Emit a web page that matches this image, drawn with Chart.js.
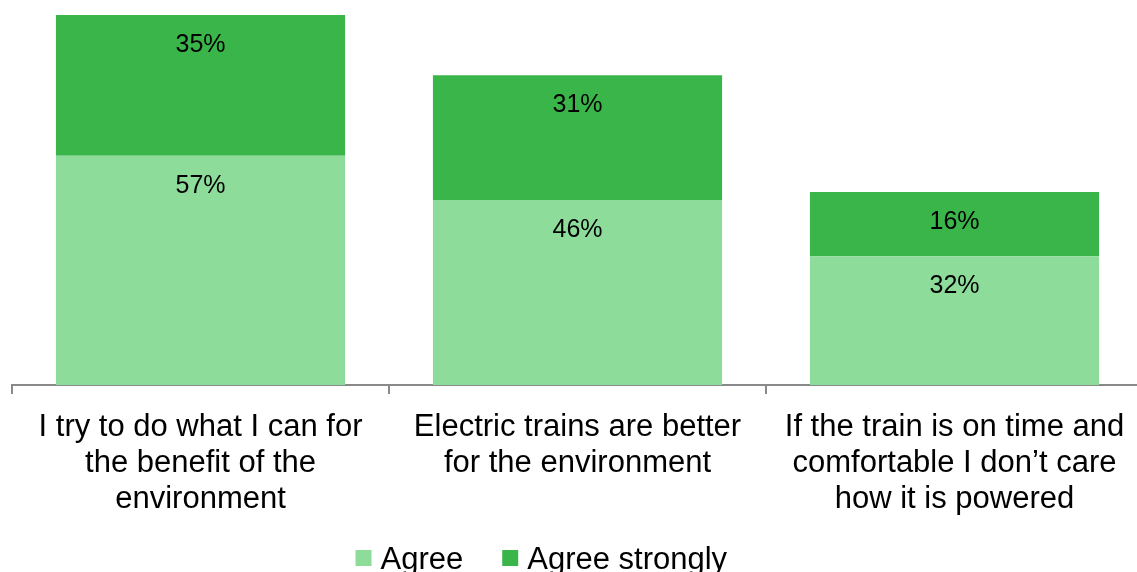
<!DOCTYPE html>
<html>
<head>
<meta charset="utf-8">
<script src="https://cdn.jsdelivr.net/npm/chart.js@4/dist/chart.umd.min.js"></script>
<style>
    html, body { margin: 0; padding: 0; background: #fff; overflow: hidden; }
    #wrap { width: 1145px; height: 572px; position: relative; }
</style>
</head>
<body>
<div id="wrap"><canvas id="chart"></canvas></div>
<script>
const categories = [
    ['I try to do what I can for', 'the benefit of the', 'environment'],
    ['Electric trains are better', 'for the environment'],
    ['If the train is on time and', 'comfortable I don\u2019t care', 'how it is powered']
];
const seriesNames = ['Agree', 'Agree strongly'];
const agree = [57, 46, 32];
const agreeStrongly = [35, 31, 16];

const LIGHT = '#8DDC9A';
const DARK = '#3AB54A';
const FONT = '"Liberation Sans", Arial, sans-serif';

// draw the % labels near the top of each segment
const segmentLabels = {
    id: 'segmentLabels',
    afterDatasetsDraw(chart) {
        const ctx = chart.ctx;
        ctx.save();
        ctx.font = '25px ' + FONT;
        ctx.fillStyle = '#000';
        ctx.textAlign = 'center';
        ctx.textBaseline = 'middle';
        chart.data.datasets.forEach((ds, i) => {
            const meta = chart.getDatasetMeta(i);
            meta.data.forEach((bar, j) => {
                ctx.fillText(ds.data[j] + '%', bar.x, bar.y + 30);
            });
        });
        ctx.restore();
    }
};

// bottom legend, drawn by hand so the spacing matches the original
const bottomLegend = {
    id: 'bottomLegend',
    afterDraw(chart) {
        const ctx = chart.ctx;
        ctx.save();
        ctx.font = '31px ' + FONT;
        ctx.textBaseline = 'middle';
        ctx.fillStyle = '#000';
        const y = chart.chartArea.bottom + 175;
        let x = chart.width / 2 - 217;
        chart.data.datasets.forEach((ds) => {
            ctx.fillStyle = ds.backgroundColor;
            ctx.fillRect(x, y - 10, 16, 16);
            ctx.fillStyle = '#000';
            ctx.fillText(ds.label, x + 25, y);
            x += 25 + ctx.measureText(ds.label).width + 39;
        });
        ctx.restore();
    }
};

new Chart(document.getElementById('chart'), {
    type: 'bar',
    data: {
        labels: categories,
        datasets: [
            {
                label: seriesNames[0],
                data: agree,
                backgroundColor: LIGHT,
                borderWidth: 0,
                barPercentage: 0.767,
                categoryPercentage: 1
            },
            {
                label: seriesNames[1],
                data: agreeStrongly,
                backgroundColor: DARK,
                borderWidth: 0,
                barPercentage: 0.767,
                categoryPercentage: 1
            }
        ]
    },
    options: {
        responsive: true,
        maintainAspectRatio: false,
        animation: false,
        layout: { padding: { left: 12, right: 2, top: 15, bottom: 40 } },
        plugins: {
            tooltip: { enabled: false },
            legend: { display: false }
        },
        scales: {
            x: {
                stacked: true,
                grid: {
                    drawOnChartArea: false,
                    color: '#898989',
                    lineWidth: 2,
                    tickLength: 9,
                    offset: true
                },
                border: { color: '#898989', width: 2 },
                ticks: {
                    color: '#000',
                    font: { size: 31, family: FONT, lineHeight: 36 / 31 },
                    maxRotation: 0,
                    autoSkip: false,
                    padding: 15
                }
            },
            y: {
                stacked: true,
                display: false,
                min: 0,
                max: 92
            }
        }
    },
    plugins: [segmentLabels, bottomLegend]
});
</script>
</body>
</html>
